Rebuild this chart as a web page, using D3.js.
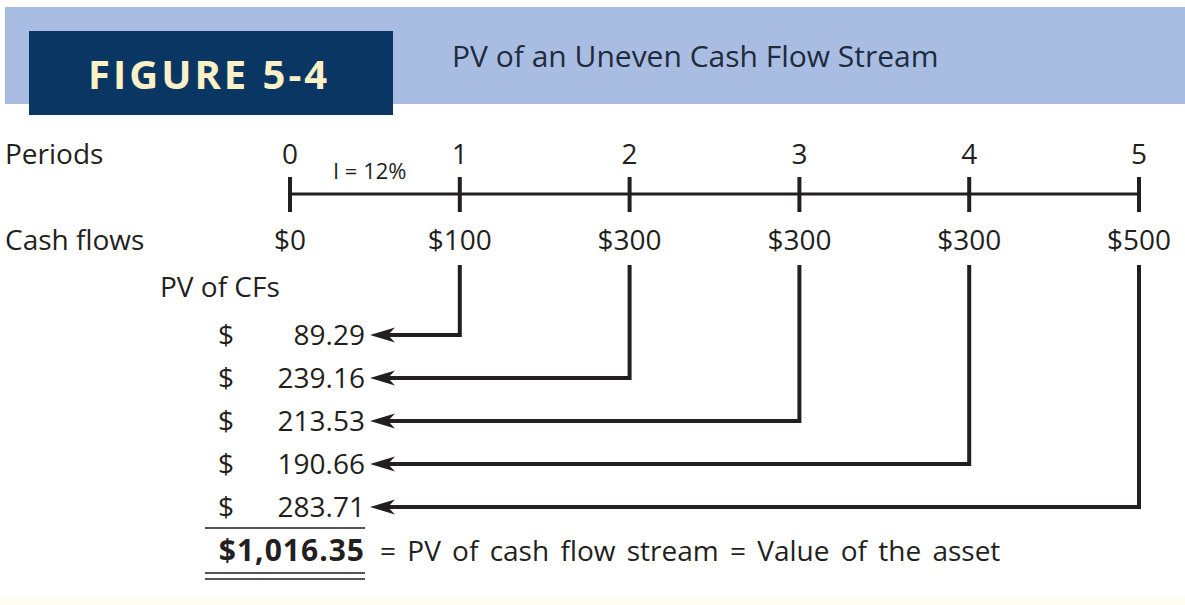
<!DOCTYPE html>
<html>
<head>
  <meta charset="utf-8">
  <script src="https://d3js.org/d3.v7.min.js"></script>
  <style>
    body { margin: 0; background: #fff; }
    svg text { font-family: "Open Sans", "Noto Sans", sans-serif; fill: #231f20; }
  </style>
</head>
<body>
<script>
  // chart values
  var periods = [0, 1, 2, 3, 4, 5];
  var cashFlows = [0, 100, 300, 300, 300, 500];
  var pvValues = [89.29, 239.16, 213.53, 190.66, 283.71];
  var rateLabel = "I = 12%";
  var totalPV = 1016.35;

  var width = 1185, height = 605;
  var ink = "#231f20";
  var fs = "28px";

  var svg = d3.select("body").append("svg")
      .attr("width", width)
      .attr("height", height);

  /*
    header band
  */
  svg.append("rect").attr("x", 5).attr("y", 7).attr("width", width - 5).attr("height", 97)
      .attr("fill", "#a9bde3");
  svg.append("rect").attr("x", 29).attr("y", 31).attr("width", 364).attr("height", 84)
      .attr("fill", "#0a3663");
  svg.append("text").attr("x", 88).attr("y", 89)
      .style("font-size", "40px").style("font-weight", "bold")
      .style("letter-spacing", "3px")
      .style("fill", "#fbf1c6")
      .text("FIGURE 5-4");
  svg.append("text").attr("x", 452).attr("y", 67)
      .style("font-size", "30px").style("fill", "#1e2b3c")
      .text("PV of an Uneven Cash Flow Stream");

  // faint band at the bottom
  svg.append("rect").attr("x", 0).attr("y", 597).attr("width", width).attr("height", 8)
      .attr("fill", "#fffdf3");

  /*
    timeline
  */
  var x = d3.scaleLinear().domain([0, 5]).range([290, 1139]);
  var lineY = 194;

  svg.append("text").attr("x", 5).attr("y", 164).style("font-size", fs).text("Periods");
  svg.append("text").attr("x", 5).attr("y", 250).style("font-size", fs).text("Cash flows");
  svg.append("text").attr("x", 160).attr("y", 297).style("font-size", fs).text("PV of CFs");

  svg.append("line")
      .attr("x1", x(0)).attr("x2", x(5))
      .attr("y1", lineY).attr("y2", lineY)
      .attr("stroke", ink).attr("stroke-width", 3);

  svg.selectAll(".tick").data(periods).enter().append("line")
      .attr("x1", function (d) { return x(d); })
      .attr("x2", function (d) { return x(d); })
      .attr("y1", lineY - 17).attr("y2", lineY + 18)
      .attr("stroke", ink).attr("stroke-width", 4);

  svg.selectAll(".plab").data(periods).enter().append("text")
      .attr("x", function (d) { return x(d); })
      .attr("y", 164)
      .attr("text-anchor", "middle")
      .style("font-size", fs)
      .text(function (d) { return d; });

  svg.append("text").attr("x", 333).attr("y", 179)
      .style("font-size", "22px")
      .text(rateLabel);

  svg.selectAll(".cf").data(cashFlows).enter().append("text")
      .attr("x", function (d, i) { return x(periods[i]); })
      .attr("y", 250)
      .attr("text-anchor", "middle")
      .style("font-size", fs)
      .text(function (d) { return "$" + d; });

  /*
    PV rows with arrows
  */
  var rowY = d3.scaleLinear().domain([0, pvValues.length - 1]).range([335, 507]);
  var numRight = 365, arrowTip = 370;

  svg.selectAll(".conn").data(pvValues).enter().append("path")
      .attr("d", function (d, i) {
        var px = x(periods[i + 1]);
        return "M" + px + ",265 V" + rowY(i) + " H" + (arrowTip + 18);
      })
      .attr("fill", "none")
      .attr("stroke", ink).attr("stroke-width", 4)
      .attr("stroke-linejoin", "miter");

  svg.selectAll(".head").data(pvValues).enter().append("path")
      .attr("d", function (d, i) {
        var y = rowY(i);
        return "M" + arrowTip + "," + y +
          " L" + (arrowTip + 25) + "," + (y - 7.5) +
          " L" + (arrowTip + 18) + "," + y +
          " L" + (arrowTip + 25) + "," + (y + 7.5) + " Z";
      })
      .attr("fill", ink);

  svg.selectAll(".dol").data(pvValues).enter().append("text")
      .attr("x", 218).attr("y", function (d, i) { return rowY(i) + 10; })
      .style("font-size", fs)
      .text("$");

  svg.selectAll(".pv").data(pvValues).enter().append("text")
      .attr("x", numRight).attr("y", function (d, i) { return rowY(i) + 10; })
      .attr("text-anchor", "end")
      .style("font-size", fs)
      .text(function (d) { return d3.format(".2f")(d); });

  // sum rule and total
  svg.append("line").attr("x1", 205).attr("x2", 365).attr("y1", 528).attr("y2", 528)
      .attr("stroke", "#555").attr("stroke-width", 2);
  svg.append("text").attr("x", numRight).attr("y", 561)
      .attr("text-anchor", "end")
      .style("font-size", "30px").style("font-weight", "bold")
      .style("letter-spacing", "1px")
      .text("$" + d3.format(",.2f")(totalPV));
  svg.append("text").attr("x", 380).attr("y", 561)
      .style("font-size", fs).style("word-spacing", "4px")
      .text("= PV of cash flow stream = Value of the asset");
  [573, 579].forEach(function (yy) {
    svg.append("line").attr("x1", 205).attr("x2", 365).attr("y1", yy).attr("y2", yy)
        .attr("stroke", "#555").attr("stroke-width", 2);
  });
</script>
</body>
</html>
